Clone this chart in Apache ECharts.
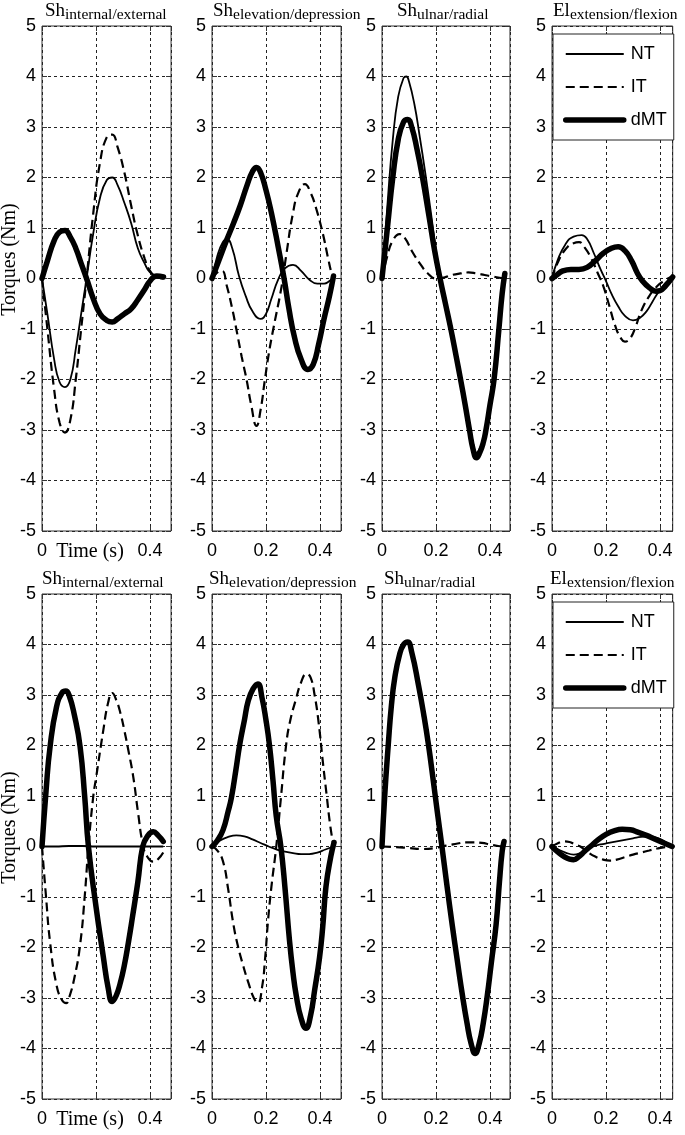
<!DOCTYPE html>
<html>
<head>
<meta charset="utf-8">
<script src="https://cdn.jsdelivr.net/npm/echarts@6/dist/echarts.min.js"></script>
<style>
  html, body { margin: 0; padding: 0; background: #fff; }
  #chart { width: 685px; height: 1135px; }
</style>
</head>
<body>
<div id="chart"></div>
<script>
// panel titles (main letters + subscript), one per column
const titleMain = ["Sh", "Sh", "Sh", "El"];
const titleSub = ["internal/external", "elevation/depression", "ulnar/radial", "extension/flexion"];
const xTickLabels = ["0", "0.2", "0.4"];
const seriesNames = ["NT", "IT", "dMT"];

// time axis end per column (s)
const xMax = [0.478, 0.478, 0.474, 0.447];

// ---- top row ----
// Sh internal/external
const nt1 = [[0,0],[0.02,-0.7],[0.045,-1.6],[0.065,-2.05],[0.085,-2.15],[0.105,-2.0],[0.125,-1.4],[0.145,-0.7],[0.165,0],[0.19,0.9],[0.215,1.6],[0.24,1.95],[0.26,2.0],[0.28,1.85],[0.305,1.5],[0.33,1.1],[0.355,0.6],[0.38,0.3],[0.4,0.12],[0.425,0.05],[0.45,0.02]];
const it1 = [[0,0],[0.02,-1.0],[0.045,-2.2],[0.065,-2.85],[0.085,-3.05],[0.105,-2.8],[0.125,-2.0],[0.145,-1.0],[0.165,0],[0.19,1.3],[0.215,2.3],[0.24,2.8],[0.26,2.85],[0.28,2.6],[0.305,2.1],[0.33,1.45],[0.355,0.85],[0.38,0.4],[0.4,0.15],[0.425,0.03],[0.45,0]];
const dmt1 = [[0,0],[0.02,0.35],[0.045,0.75],[0.065,0.92],[0.085,0.95],[0.105,0.82],[0.125,0.6],[0.145,0.3],[0.165,0],[0.19,-0.4],[0.215,-0.7],[0.24,-0.83],[0.26,-0.86],[0.28,-0.8],[0.305,-0.7],[0.33,-0.6],[0.355,-0.42],[0.38,-0.22],[0.4,-0.05],[0.425,0.05],[0.45,0.03]];
// Sh elevation/depression
const nt2 = [[0,0],[0.02,0.45],[0.04,0.72],[0.055,0.78],[0.075,0.6],[0.1,0.05],[0.125,-0.35],[0.15,-0.65],[0.18,-0.8],[0.2,-0.7],[0.22,-0.4],[0.245,-0.02],[0.27,0.2],[0.3,0.27],[0.33,0.15],[0.36,-0.02],[0.39,-0.1],[0.415,-0.1],[0.435,-0.05],[0.45,0.02]];
const it2 = [[0,0],[0.02,0.12],[0.037,0.15],[0.055,-0.15],[0.075,-0.6],[0.09,-1.0],[0.11,-1.55],[0.128,-2.0],[0.145,-2.5],[0.165,-2.92],[0.18,-2.6],[0.196,-2.0],[0.21,-1.5],[0.227,-1.0],[0.258,-0.15],[0.276,0.5],[0.3,1.3],[0.32,1.7],[0.344,1.87],[0.365,1.7],[0.385,1.4],[0.41,0.9],[0.43,0.4],[0.443,0.1],[0.45,0]];
const dmt2 = [[0,0],[0.025,0.35],[0.055,0.77],[0.08,1.1],[0.105,1.45],[0.13,1.85],[0.15,2.12],[0.165,2.2],[0.18,2.1],[0.2,1.75],[0.22,1.3],[0.245,0.63],[0.267,0],[0.285,-0.6],[0.305,-1.15],[0.33,-1.6],[0.355,-1.8],[0.375,-1.7],[0.395,-1.3],[0.415,-0.8],[0.435,-0.35],[0.45,0.05]];
// Sh ulnar/radial
const nt3 = [[0,0],[0.02,1.45],[0.04,2.75],[0.06,3.6],[0.08,3.97],[0.09,4.0],[0.1,3.9],[0.12,3.45],[0.14,2.8],[0.16,2.1],[0.18,1.35],[0.2,0.55],[0.215,0.05],[0.235,-0.45],[0.255,-0.93],[0.275,-1.45],[0.291,-1.9],[0.308,-2.4],[0.324,-2.88],[0.338,-3.28],[0.35,-3.45],[0.362,-3.37],[0.375,-3.18],[0.385,-2.93],[0.4,-2.45],[0.415,-1.95],[0.433,-0.98],[0.445,-0.28],[0.455,0.1]];
const it3 = [[0,0],[0.02,0.45],[0.04,0.75],[0.065,0.88],[0.085,0.8],[0.11,0.55],[0.14,0.3],[0.17,0.1],[0.2,0.0],[0.23,0.02],[0.26,0.07],[0.29,0.1],[0.32,0.12],[0.35,0.1],[0.38,0.07],[0.41,0.04],[0.43,0.02],[0.45,0]];
const dmt3 = [[0,0],[0.02,1.0],[0.04,2.0],[0.06,2.75],[0.08,3.1],[0.095,3.15],[0.11,3.0],[0.13,2.55],[0.15,2.0],[0.175,1.2],[0.195,0.55],[0.215,0],[0.235,-0.5],[0.255,-1.0],[0.275,-1.55],[0.291,-2.0],[0.308,-2.5],[0.324,-3.0],[0.338,-3.4],[0.35,-3.55],[0.362,-3.45],[0.375,-3.25],[0.385,-3.0],[0.4,-2.5],[0.415,-2.0],[0.433,-1.0],[0.445,-0.3],[0.455,0.1]];
// El extension/flexion
const nt4 = [[0,0],[0.02,0.35],[0.05,0.68],[0.08,0.83],[0.11,0.86],[0.13,0.78],[0.155,0.5],[0.18,0.18],[0.2,-0.05],[0.22,-0.3],[0.245,-0.55],[0.27,-0.74],[0.3,-0.83],[0.325,-0.78],[0.35,-0.65],[0.37,-0.48],[0.39,-0.3],[0.415,-0.12],[0.435,-0.02],[0.447,0]];
const it4 = [[0,0],[0.02,0.3],[0.05,0.58],[0.08,0.7],[0.1,0.72],[0.12,0.62],[0.145,0.4],[0.17,0.1],[0.19,-0.15],[0.21,-0.5],[0.235,-0.95],[0.255,-1.18],[0.27,-1.25],[0.29,-1.18],[0.31,-0.95],[0.33,-0.65],[0.36,-0.35],[0.39,-0.15],[0.42,-0.03],[0.447,0.05]];
const dmt4 = [[0,0],[0.02,0.08],[0.04,0.15],[0.07,0.18],[0.1,0.18],[0.13,0.22],[0.16,0.35],[0.19,0.5],[0.22,0.6],[0.245,0.63],[0.27,0.55],[0.295,0.35],[0.315,0.12],[0.335,-0.05],[0.36,-0.18],[0.385,-0.25],[0.4,-0.24],[0.42,-0.15],[0.447,0.03]];

// ---- bottom row ----
// Sh internal/external
const nt5 = [[0,0],[0.05,0],[0.1,0.01],[0.15,0.01],[0.2,0],[0.25,0],[0.3,0],[0.35,0],[0.4,0],[0.449,0]];
const it5 = [[0,0],[0.015,-1.0],[0.03,-1.9],[0.054,-2.75],[0.075,-3.05],[0.09,-3.1],[0.1,-3.0],[0.12,-2.6],[0.141,-1.95],[0.158,-1.0],[0.172,0],[0.19,1.0],[0.2,1.35],[0.227,2.3],[0.245,2.85],[0.26,3.04],[0.275,2.9],[0.29,2.65],[0.305,2.3],[0.32,1.9],[0.338,1.38],[0.355,0.7],[0.375,0],[0.39,-0.2],[0.412,-0.3],[0.43,-0.25],[0.449,-0.12]];
const dmt5 = [[0,0],[0.015,1.1],[0.03,1.98],[0.054,2.77],[0.075,3.05],[0.088,3.08],[0.1,3.0],[0.12,2.6],[0.141,1.98],[0.158,1.0],[0.172,0],[0.2,-1.19],[0.227,-2.18],[0.245,-2.8],[0.26,-3.07],[0.275,-2.95],[0.29,-2.7],[0.305,-2.35],[0.32,-1.9],[0.335,-1.4],[0.355,-0.7],[0.373,0],[0.39,0.2],[0.412,0.29],[0.43,0.22],[0.449,0.1]];
// Sh elevation/depression
const nt6 = [[0,0],[0.03,0.12],[0.06,0.19],[0.09,0.22],[0.12,0.2],[0.15,0.14],[0.18,0.07],[0.21,0],[0.24,-0.06],[0.27,-0.1],[0.3,-0.13],[0.33,-0.15],[0.36,-0.15],[0.39,-0.12],[0.42,-0.06],[0.45,0]];
const it6 = [[0,0],[0.02,-0.08],[0.041,-0.3],[0.06,-0.85],[0.078,-1.5],[0.095,-1.95],[0.115,-2.35],[0.135,-2.7],[0.155,-3.0],[0.17,-3.1],[0.185,-2.8],[0.197,-2.2],[0.207,-1.5],[0.22,-0.8],[0.238,0],[0.255,0.95],[0.275,2.03],[0.29,2.5],[0.31,2.9],[0.33,3.25],[0.35,3.42],[0.365,3.35],[0.38,3.0],[0.395,2.45],[0.41,1.7],[0.425,1.0],[0.437,0.45],[0.45,0]];
const dmt6 = [[0,0],[0.02,0.12],[0.041,0.33],[0.06,0.7],[0.072,0.97],[0.088,1.5],[0.103,2.03],[0.12,2.5],[0.134,2.88],[0.152,3.12],[0.17,3.22],[0.185,2.95],[0.2,2.5],[0.213,2.0],[0.226,1.3],[0.238,0.6],[0.255,0],[0.27,-0.8],[0.287,-1.86],[0.3,-2.5],[0.312,-2.95],[0.33,-3.4],[0.348,-3.6],[0.365,-3.35],[0.38,-2.85],[0.398,-2.21],[0.41,-1.6],[0.422,-0.8],[0.44,-0.2],[0.452,0.08]];
// Sh ulnar/radial
const nt7 = [[0,0],[0.01,0.98],[0.023,1.98],[0.035,2.78],[0.0475,3.33],[0.065,3.78],[0.08,3.98],[0.095,4.02],[0.11,3.82],[0.135,3.15],[0.155,2.55],[0.1725,1.97],[0.19,1.27],[0.204,0.69],[0.222,0],[0.24,-0.73],[0.26,-1.52],[0.28,-2.24],[0.298,-2.88],[0.315,-3.42],[0.33,-3.82],[0.345,-4.02],[0.36,-3.83],[0.375,-3.44],[0.39,-2.9],[0.405,-2.26],[0.4225,-1.53],[0.435,-0.69],[0.445,-0.1],[0.452,0.1]];
const it7 = [[0,0],[0.05,-0.01],[0.1,-0.03],[0.15,-0.05],[0.2,-0.03],[0.22,0],[0.25,0.03],[0.28,0.06],[0.31,0.08],[0.34,0.08],[0.37,0.07],[0.4,0.04],[0.43,0.01],[0.452,0]];
const dmt7 = [[0,0],[0.01,1.0],[0.023,2.0],[0.035,2.8],[0.0475,3.35],[0.065,3.8],[0.08,4.0],[0.095,4.05],[0.11,3.85],[0.135,3.2],[0.155,2.6],[0.1725,2.0],[0.19,1.3],[0.204,0.72],[0.222,0],[0.24,-0.75],[0.26,-1.55],[0.28,-2.3],[0.298,-2.95],[0.315,-3.5],[0.33,-3.9],[0.345,-4.1],[0.36,-3.9],[0.375,-3.5],[0.39,-2.95],[0.405,-2.3],[0.4225,-1.55],[0.435,-0.7],[0.445,-0.1],[0.452,0.1]];
// El extension/flexion
const nt8 = [[0,0],[0.02,-0.05],[0.05,-0.12],[0.08,-0.16],[0.1,-0.14],[0.125,-0.07],[0.15,0],[0.18,0.04],[0.21,0.07],[0.24,0.1],[0.27,0.13],[0.3,0.16],[0.33,0.19],[0.36,0.2],[0.39,0.17],[0.42,0.09],[0.445,0]];
const it8 = [[0,0],[0.02,0.06],[0.045,0.1],[0.065,0.09],[0.085,0.04],[0.105,0],[0.13,-0.1],[0.16,-0.2],[0.19,-0.26],[0.215,-0.28],[0.24,-0.26],[0.27,-0.21],[0.3,-0.16],[0.33,-0.12],[0.36,-0.08],[0.39,-0.04],[0.42,-0.01],[0.445,0]];
const dmt8 = [[0,0],[0.02,-0.1],[0.045,-0.2],[0.065,-0.25],[0.08,-0.26],[0.1,-0.2],[0.12,-0.1],[0.142,0],[0.17,0.13],[0.2,0.24],[0.23,0.31],[0.26,0.34],[0.29,0.33],[0.32,0.28],[0.35,0.22],[0.38,0.15],[0.41,0.08],[0.445,0]];

const panels = [
  [nt1, it1, dmt1], [nt2, it2, dmt2], [nt3, it3, dmt3], [nt4, it4, dmt4],
  [nt5, it5, dmt5], [nt6, it6, dmt6], [nt7, it7, dmt7], [nt8, it8, dmt8],
];

// layout (px)
const colLeft = [42, 212, 382, 552];
const rowTop = [26, 594];
const plotH = 505;
const pxPerSec = 270;
const titleLeft = [[45, 213, 397, 553], [42, 209, 384, 550]];
const titleTop = [1, 569];

const serif = "Liberation Serif";
const sans = "Liberation Sans";

const lineStyles = [
  { color: "#000", width: 1.8, type: "solid" },
  { color: "#000", width: 2.2, type: [9, 5] },
  { color: "#000", width: 5.5, type: "solid", cap: "round", join: "round" },
];

const chart = echarts.init(document.getElementById("chart"));

const grids = [], xAxes = [], yAxes = [], series = [], titles = [];

panels.forEach((lines, g) => {
  const col = g % 4;
  const row = Math.floor(g / 4);
  const first = col === 0;

  grids.push({
    left: colLeft[col],
    top: rowTop[row],
    width: xMax[col] * pxPerSec,
    height: plotH,
    show: true,
    borderColor: "#333",
    borderWidth: 1,
    backgroundColor: "transparent",
    outerBoundsMode: "none",
  });

  titles.push({
    left: titleLeft[row][col],
    top: titleTop[row],
    padding: 0,
    text: "{a|" + titleMain[col] + "}{b|" + titleSub[col] + "}",
    textStyle: {
      fontWeight: "normal",
      rich: {
        a: { fontFamily: serif, fontWeight: "normal", fontSize: 19, lineHeight: 22, padding: [0, 0, 2, 0], verticalAlign: "bottom", color: "#000" },
        b: { fontFamily: serif, fontWeight: "normal", fontSize: 15.5, lineHeight: 18, verticalAlign: "bottom", color: "#000" },
      },
    },
  });

  // bottom x axis with labels
  xAxes.push({
    gridIndex: g,
    type: "value",
    position: "bottom",
    min: 0,
    max: xMax[col],
    interval: 0.2,
    axisLine: { show: false, onZero: false },
    axisTick: { show: true, inside: true, length: 5, lineStyle: { color: "#333" } },
    axisLabel: {
      color: "#000",
      fontFamily: sans,
      fontSize: 18,
      margin: 11,
      formatter: (v) => {
        const k = Math.round(v / 0.2);
        if (Math.abs(v - k * 0.2) > 1e-9) return "";
        if (first && k === 1) return "{t|Time (s)}";
        return xTickLabels[k] || "";
      },
      rich: {
        t: { fontFamily: serif, fontSize: 20, color: "#000", padding: [0, 12, 0, 0] },
      },
    },
    splitLine: { show: true, lineStyle: { color: "#222", width: 1, type: [3, 3] } },
  });
  // top x axis, ticks only
  xAxes.push({
    gridIndex: g,
    type: "value",
    position: "top",
    min: 0,
    max: xMax[col],
    interval: 0.2,
    axisLine: { show: false, onZero: false },
    axisTick: { show: true, inside: true, length: 5, lineStyle: { color: "#333" } },
    axisLabel: { show: false },
    splitLine: { show: false },
  });

  yAxes.push({
    gridIndex: g,
    type: "value",
    position: "left",
    min: -5,
    max: 5,
    interval: 1,
    name: first ? "Torques (Nm)" : "",
    nameLocation: "middle",
    nameGap: 22,
    nameMoveOverlap: false,
    nameTextStyle: { fontFamily: serif, fontSize: 20, color: "#000", padding: [0, 0, 0, 38] },
    axisLine: { show: false, onZero: false },
    axisTick: { show: true, inside: true, length: 5, lineStyle: { color: "#333" } },
    axisLabel: { color: "#000", fontFamily: sans, fontSize: 18, margin: 6 },
    splitLine: { show: true, lineStyle: { color: "#222", width: 1, type: [3, 3] } },
  });
  yAxes.push({
    gridIndex: g,
    type: "value",
    position: "right",
    min: -5,
    max: 5,
    interval: 1,
    axisLine: { show: false, onZero: false },
    axisTick: { show: true, inside: true, length: 5, lineStyle: { color: "#333" } },
    axisLabel: { show: false },
    splitLine: { show: false },
  });

  lines.forEach((data, s) => {
    series.push({
      name: seriesNames[s],
      type: "line",
      xAxisIndex: g * 2,
      yAxisIndex: g * 2,
      data: data,
      smooth: 0.5,
      symbol: "none",
      silent: true,
      lineStyle: lineStyles[s],
      emphasis: { disabled: true },
      z: 2 + s,
    });
  });
});

const legendData = seriesNames.map((n, s) => ({
  name: n,
  lineStyle: { width: lineStyles[s].width, type: lineStyles[s].type, color: "#000" },
}));

const legends = rowTop.map((t) => ({
  data: legendData,
  orient: "vertical",
  left: colLeft[3] + 1,
  top: t + 8,
  padding: [11, 7, 11, 10],
  itemWidth: 58,
  itemHeight: 14,
  itemGap: 15,
  backgroundColor: "#fff",
  borderColor: "#222",
  borderWidth: 1,
  borderRadius: 0,
  selectedMode: false,
  itemStyle: { opacity: 0 },
  textStyle: { color: "#000", fontFamily: sans, fontSize: 18, padding: [0, 0, 0, 2] },
  z: 10,
}));

chart.setOption({
  backgroundColor: "#fff",
  animation: false,
  title: titles,
  legend: legends,
  grid: grids,
  xAxis: xAxes,
  yAxis: yAxes,
  series: series,
});
</script>
</body>
</html>
